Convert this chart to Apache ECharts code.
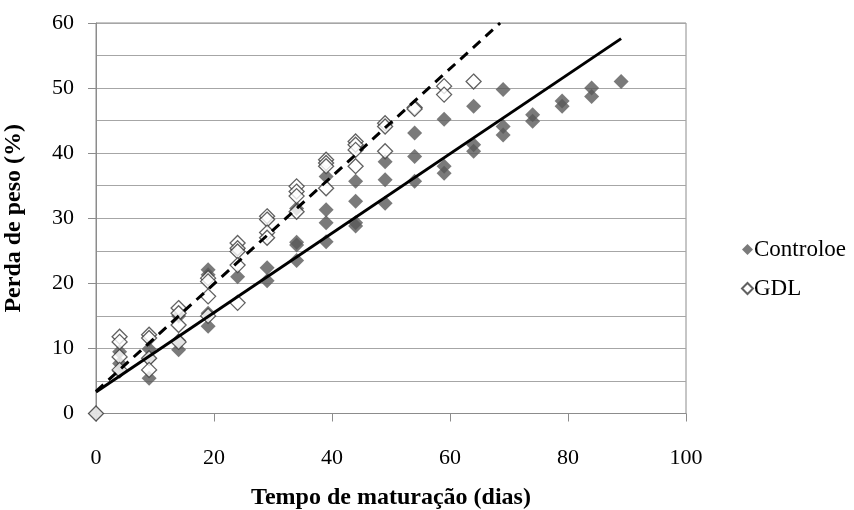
<!DOCTYPE html>
<html>
<head>
<meta charset="utf-8">
<script src="https://cdn.jsdelivr.net/npm/echarts@6/dist/echarts.min.js"></script>
<style>
html,body{margin:0;padding:0;background:#fff;}
#chart{width:854px;height:510px;}
</style>
</head>
<body>
<div id="chart"></div>
<script>
// Days of maturation (x) and weight loss % (y)
const controlDays = [0, 4,4,4, 9,9,9, 14,14,14, 19,19,19,19, 24,24, 29,29, 34,34,34,34, 39,39,39,39, 44,44,44,44, 49,49,49, 54,54,54, 59,59,59, 64,64,64, 69,69,69, 74,74, 79,79, 84,84, 89];
const controlLoss = [0, 9.5,7.7,6.5, 9.9,8.4,5.4, 15.0,11.2,9.8, 22.1,21.3,15.4,13.4, 25.2,21.0, 22.4,20.4, 31.5,26.3,25.9,23.5, 36.4,31.3,29.3,26.4, 35.7,32.6,29.3,28.8, 38.7,35.9,32.3, 43.1,39.5,35.7, 45.2,38.0,36.9, 47.2,41.3,40.3, 49.8,44.1,42.8, 45.9,44.9, 48.0,47.2, 50.0,48.7, 51.0];
const gdlDays = [0, 4,4,4,4, 9,9,9,9, 14,14,14,14, 19,19,19,19, 24,24,24,24,24, 29,29,29,29, 34,34,34,34, 39,39,39,39, 44,44,44,44, 49,49,49, 54,54, 59,59, 64];
const gdlLoss = [0, 11.8,11.0,8.7,6.7, 12.1,11.6,8.5,6.7, 16.2,15.4,13.6,11.0, 20.8,20.3,18.0,15.0, 26.2,25.4,24.9,22.8,17.0, 30.3,29.8,27.8,27.0, 34.9,34.1,33.4,31.0, 39.0,38.5,38.0,34.6, 41.8,41.3,40.5,38.0, 44.6,44.1,40.3, 47.0,46.8, 50.3,49.0, 51.0];
// Linear trend lines (endpoints)
const controlTrendX = [0, 89];
const controlTrendY = [3.3, 57.6];
const gdlTrendX = [0, 68.5];
const gdlTrendY = [3.4, 60];
const xTicks = [0, 20, 40, 60, 80, 100];
const yTicks = [0, 10, 20, 30, 40, 50, 60];
const seriesNames = ['Controloe', 'GDL'];

const zip = (a, b) => a.map((v, i) => [v, b[i]]);
const FONT = 'Liberation Serif, Times New Roman, serif';

const chart = echarts.init(document.getElementById('chart'), null, {renderer: 'canvas'});
chart.setOption({
  animation: false,
  backgroundColor: '#ffffff',
  grid: {
    left: 96, right: 168, top: 23, bottom: 96.5,
    containLabel: false, outerBoundsMode: 'none',
    show: true, borderColor: '#8c8c8c', borderWidth: 1, backgroundColor: 'transparent'
  },
  legend: {
    orient: 'vertical',
    left: 736, top: 233,
    itemWidth: 11, itemHeight: 11, itemGap: 16,
    data: seriesNames,
    textStyle: {fontFamily: FONT, fontSize: 23, color: '#000', padding: [0, 0, 0, -4]}
  },
  xAxis: {
    type: 'value',
    min: xTicks[0], max: xTicks[xTicks.length - 1], interval: 20,
    name: 'Tempo de maturação (dias)',
    nameLocation: 'middle', nameGap: 72,
    nameTextStyle: {fontFamily: FONT, fontSize: 24, fontWeight: 'bold', color: '#000'},
    axisLine: {show: true, lineStyle: {color: '#8c8c8c', width: 1}},
    axisTick: {show: true, inside: false, length: 8, lineStyle: {color: '#8c8c8c'}},
    axisLabel: {fontFamily: FONT, fontSize: 22, color: '#000', margin: 34},
    splitLine: {show: false}
  },
  yAxis: {
    type: 'value',
    min: yTicks[0], max: yTicks[yTicks.length - 1], interval: 10,
    name: 'Perda de peso (%)',
    nameLocation: 'middle', nameGap: 70, nameRotate: 90,
    nameTextStyle: {fontFamily: FONT, fontSize: 24, fontWeight: 'bold', color: '#000'},
    axisLine: {show: true, lineStyle: {color: '#8c8c8c', width: 1}},
    axisTick: {show: true, inside: false, length: 8, lineStyle: {color: '#8c8c8c'}},
    axisLabel: {fontFamily: FONT, fontSize: 22, color: '#000', margin: 22},
    splitLine: {show: true, lineStyle: {color: '#a6a6a6', width: 1}},
    minorTick: {show: false, splitNumber: 2},
    minorSplitLine: {show: true, lineStyle: {color: '#a6a6a6', width: 1}}
  },
  series: [
    {
      name: seriesNames[0], type: 'scatter',
      symbol: 'diamond', symbolSize: 15,
      itemStyle: {color: '#595959'},
      data: zip(controlDays, controlLoss), z: 2
    },
    {
      name: seriesNames[1], type: 'scatter',
      symbol: 'diamond', symbolSize: 15,
      itemStyle: {color: '#ffffff', borderColor: '#3a3a3a', borderWidth: 1.3},
      data: zip(gdlDays, gdlLoss), z: 3
    },
    {
      name: 'trendControl', type: 'line', showSymbol: false, symbol: 'none',
      lineStyle: {color: '#000', width: 3},
      data: zip(controlTrendX, controlTrendY), z: 4, silent: true
    },
    {
      name: 'trendGDL', type: 'line', showSymbol: false, symbol: 'none',
      lineStyle: {color: '#000', width: 3, type: [10, 7]},
      data: zip(gdlTrendX, gdlTrendY), z: 4, silent: true
    }
  ]
});
</script>
</body>
</html>
